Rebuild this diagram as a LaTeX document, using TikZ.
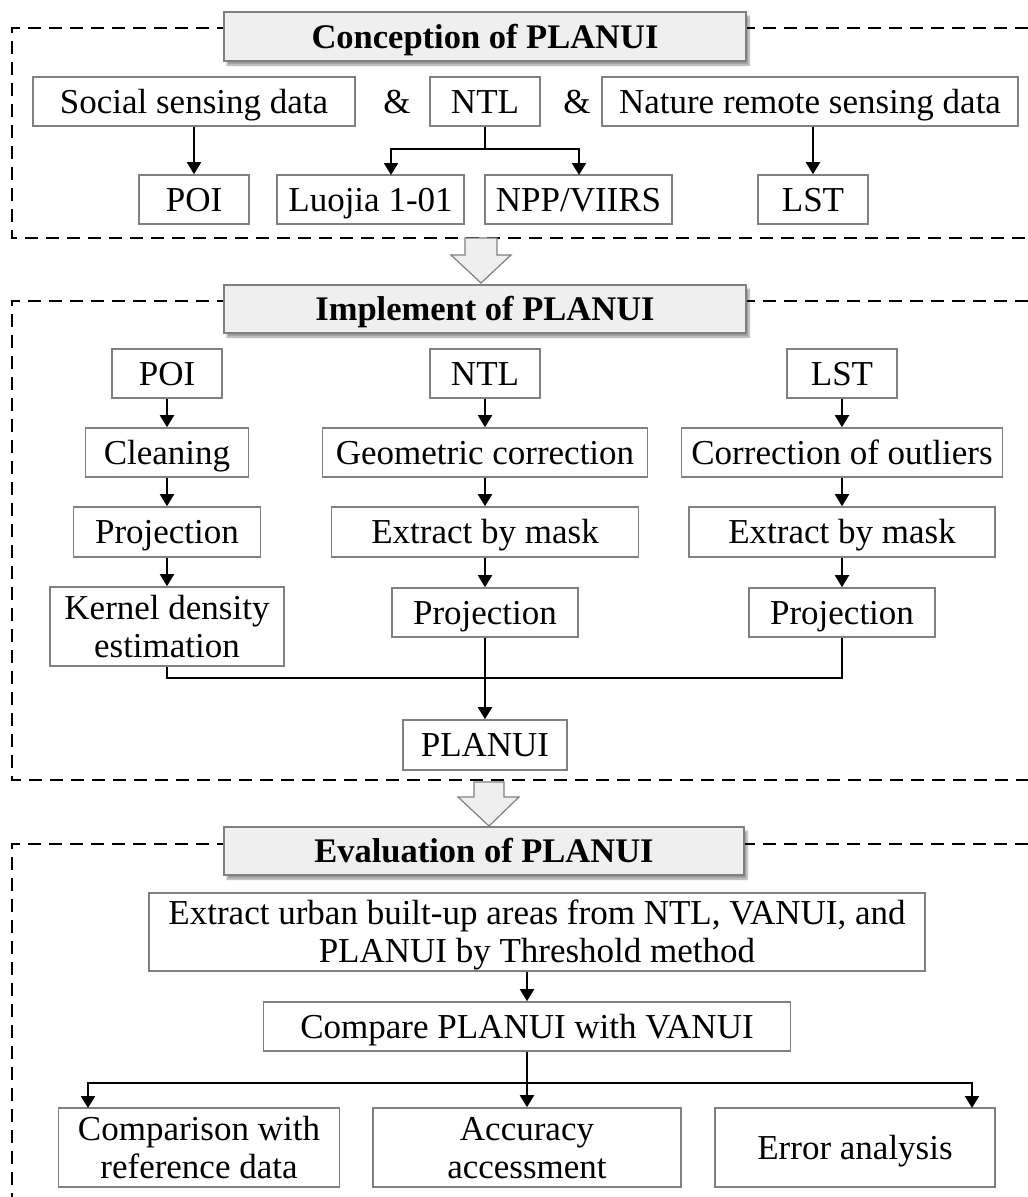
\documentclass[tikz,border=0pt]{standalone}
\usepackage{fontspec}
\setmainfont{Liberation Serif}
\usetikzlibrary{arrows.meta,shadows.blur}
\definecolor{boxgray}{HTML}{808080}
\definecolor{titlefill}{HTML}{EFEFEF}
\begin{document}
\begin{tikzpicture}[x=1pt,y=-1pt,
  every node/.style={font=\fontsize{35}{38}\selectfont, text height=23pt, text depth=0pt},
  box/.style={draw=boxgray, line width=1.6pt, fill=white, inner sep=0pt, align=center},
  twoline/.style={text height=61pt},
  ttl/.style={box, fill=titlefill, font=\fontsize{34.5}{38}\selectfont\bfseries,
    blur shadow={shadow xshift=3pt, shadow yshift=-4pt, shadow blur steps=6}},
  arr/.style={line width=2pt, -{Triangle[width=14pt,length=12pt]}},
  ln/.style={line width=2pt},
  dbox/.style={line width=2pt, dash pattern=on 13pt off 8pt},
  hollow/.style={draw=boxgray, line width=1.2pt, fill=titlefill, line join=miter}
]
\useasboundingbox (0,0) rectangle (1028,1197);

% dashed section frames
\draw[dbox] (1028,28) -- (12,28) -- (12,238) -- (1028,238);
\draw[dbox] (1028,301) -- (12,301) -- (12,780) -- (1028,780);
\draw[dbox] (1028,844) -- (12,844) -- (12,1197);

% hollow arrows between sections
\draw[hollow] (465,238) -- (497,238) -- (497,255) -- (511,255) -- (481,283) -- (451,255) -- (465,255) -- cycle;
\draw[hollow] (474,782) -- (504,782) -- (504,797) -- (519,797) -- (489,826) -- (458,797) -- (474,797) -- cycle;

% ---------- Section 1 ----------
\node[ttl, minimum width=522pt, minimum height=49pt] (t1) at (485,36.5) {Conception of PLANUI};
\node[box, minimum width=322pt, minimum height=49pt] (soc) at (194,101.5) {Social sensing data};
\node (amp1) at (397,101.5) {\&};
\node[box, minimum width=110pt, minimum height=49pt] (ntl1) at (485,101.5) {NTL};
\node (amp2) at (577,101.5) {\&};
\node[box, minimum width=416pt, minimum height=49pt] (nat) at (810,101.5) {Nature remote sensing data};
\node[box, minimum width=110pt, minimum height=49pt] (poi1) at (194,199.5) {POI};
\node[box, minimum width=187pt, minimum height=49pt] (luo) at (370.5,199.5) {Luojia 1-01};
\node[box, minimum width=187pt, minimum height=49pt] (npp) at (578.5,199.5) {NPP/VIIRS};
\node[box, minimum width=110pt, minimum height=49pt] (lst1) at (813,199.5) {LST};
\coordinate (luoin) at (391,175);
\coordinate (nppin) at (579,175);

\draw[arr] (soc.south) -- (poi1.north);
\draw[arr] (ntl1.south) -- ++(0,22) -| (luoin);
\draw[arr] (ntl1.south) -- ++(0,22) -| (nppin);
\draw[arr] (nat.south -| lst1.north) -- (lst1.north);

% ---------- Section 2 ----------
\node[ttl, minimum width=522pt, minimum height=48pt] (t2) at (485,309) {Implement of PLANUI};
\node[box, minimum width=110pt, minimum height=49pt] (poi2) at (167,373.5) {POI};
\node[box, minimum width=110pt, minimum height=49pt] (ntl2) at (485,373.5) {NTL};
\node[box, minimum width=110pt, minimum height=49pt] (lst2) at (842,373.5) {LST};
\node[box, minimum width=163pt, minimum height=49pt] (clean) at (167,452.5) {Cleaning};
\node[box, minimum width=325pt, minimum height=49pt] (geo) at (485,452.5) {Geometric correction};
\node[box, minimum width=321pt, minimum height=49pt] (cor) at (842,452.5) {Correction of outliers};
\node[box, minimum width=187pt, minimum height=50pt] (proj1) at (167,532) {Projection};
\node[box, minimum width=307pt, minimum height=50pt] (ext1) at (485,532) {Extract by mask};
\node[box, minimum width=306pt, minimum height=50pt] (ext2) at (842,532) {Extract by mask};
\node[box, twoline, minimum width=234pt, minimum height=79pt] (kde) at (167,626.5) {Kernel density\\estimation};
\node[box, minimum width=186pt, minimum height=49pt] (proj2) at (485,612.5) {Projection};
\node[box, minimum width=186pt, minimum height=49pt] (proj3) at (842,612.5) {Projection};
\node[box, minimum width=164pt, minimum height=50pt] (plan) at (485,745) {PLANUI};

\draw[arr] (poi2.south) -- (clean.north);
\draw[arr] (clean.south) -- (proj1.north);
\draw[arr] (proj1.south) -- (kde.north);
\draw[arr] (ntl2.south) -- (geo.north);
\draw[arr] (geo.south) -- (ext1.north);
\draw[arr] (ext1.south) -- (proj2.north);
\draw[arr] (lst2.south) -- (cor.north);
\draw[arr] (cor.south) -- (ext2.north);
\draw[arr] (ext2.south) -- (proj3.north);
\draw[ln] (kde.south) -- ++(0,11) -| (proj3.south);
\draw[arr] (proj2.south) -- (plan.north);

% ---------- Section 3 ----------
\node[ttl, minimum width=520pt, minimum height=48pt] (t3) at (484,851) {Evaluation of PLANUI};
\node[box, twoline, minimum width=776pt, minimum height=78pt] (ext3) at (537,932) {Extract urban built-up areas from NTL, VANUI, and\\PLANUI by Threshold method};
\node[box, minimum width=527pt, minimum height=49pt] (cmp) at (527,1026.5) {Compare PLANUI with VANUI};
\node[box, twoline, minimum width=281pt, minimum height=79pt] (comp) at (199,1147.5) {Comparison with\\reference data};
\node[box, twoline, minimum width=308pt, minimum height=79pt] (acc) at (527,1147.5) {Accuracy\\accessment};
\node[box, minimum width=280pt, minimum height=79pt] (err) at (855,1147.5) {Error analysis};
\coordinate (cin) at (88,1108);
\coordinate (ein) at (972,1108);

\draw[arr] (ext3.south -| cmp.north) -- (cmp.north);
\draw[arr] (cmp.south) -- (acc.north);
\draw[arr] (cmp.south) -- ++(0,31) -| (cin);
\draw[arr] (cmp.south) -- ++(0,31) -| (ein);
\end{tikzpicture}
\end{document}
